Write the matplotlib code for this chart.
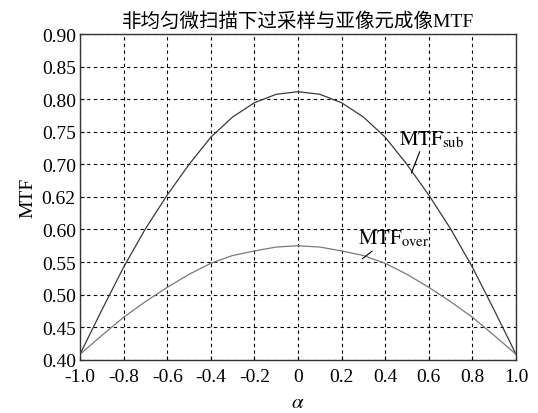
import numpy as np
import matplotlib
matplotlib.use('Agg')
import matplotlib.pyplot as plt

plt.rcParams['font.family'] = ['Liberation Serif', 'Noto Sans CJK SC']
plt.rcParams['mathtext.fontset'] = 'stix'

# ===== data =====
alpha = [-1.0, -0.9, -0.8, -0.7, -0.6, -0.5, -0.4, -0.3, -0.2, -0.1, 0.0,
         0.1, 0.2, 0.3, 0.4, 0.5, 0.6, 0.7, 0.8, 0.9, 1.0]
mtf_sub = [0.408, 0.476, 0.542, 0.601, 0.653, 0.700, 0.742, 0.773, 0.795, 0.808, 0.812,
           0.808, 0.795, 0.773, 0.742, 0.700, 0.653, 0.601, 0.542, 0.476, 0.408]
mtf_over = [0.408, 0.437, 0.465, 0.489, 0.511, 0.531, 0.548, 0.560, 0.567, 0.573, 0.575,
            0.573, 0.567, 0.560, 0.548, 0.531, 0.511, 0.489, 0.465, 0.437, 0.408]

y_ticks = [0.40, 0.45, 0.50, 0.55, 0.60, 0.65, 0.70, 0.75, 0.80, 0.85, 0.90]
y_tick_labels = ['0.40', '0.45', '0.50', '0.55', '0.60', '0.62', '0.70', '0.75', '0.80', '0.85', '0.90']
x_ticks = [-1.0, -0.8, -0.6, -0.4, -0.2, 0.0, 0.2, 0.4, 0.6, 0.8, 1.0]
x_tick_labels = ['-1.0', '-0.8', '-0.6', '-0.4', '-0.2', '0', '0.2', '0.4', '0.6', '0.8', '1.0']

fig = plt.figure(figsize=(5.38, 4.14), dpi=100)
ax = fig.add_axes([0.1487, 0.1292, 0.9591 - 0.1487, 0.9143 - 0.1292])

ax.plot(alpha, mtf_sub, color='#3a3a3a', linewidth=0.9)
ax.plot(alpha, mtf_over, color='#7a7a7a', linewidth=0.9)

ax.set_xlim(-1, 1)
ax.set_ylim(0.40, 0.90)
ax.set_xticks(x_ticks)
ax.set_xticklabels(x_tick_labels)
ax.set_yticks(y_ticks)
ax.set_yticklabels(y_tick_labels)
ax.tick_params(direction='in', length=3, labelsize=14, colors='black')
ax.tick_params(axis='x', pad=6)
ax.tick_params(axis='y', pad=3)
ax.grid(True, color='black', linestyle=(0, (3, 3)), linewidth=0.8)
for sp in ax.spines.values():
    sp.set_linewidth(1.0)
    sp.set_color('#333333')

ax.set_title('非均匀微扫描下过采样与亚像元成像MTF', fontsize=14, pad=6)
ax.set_ylabel('MTF', fontsize=14, labelpad=4)
ax.set_xlabel(r'$\alpha$', fontsize=15, labelpad=6)

# curve labels with leader lines
ax.annotate(r'$\mathrm{MTF}_{\mathrm{sub}}$', xy=(0.52, 0.687), xytext=(0.465, 0.724),
            fontsize=15, ha='left', va='bottom',
            arrowprops=dict(arrowstyle='-', color='black', linewidth=0.8,
                            shrinkA=0, shrinkB=0, relpos=(0.33, 0.0)))
ax.annotate(r'$\mathrm{MTF}_{\mathrm{over}}$', xy=(0.295, 0.555), xytext=(0.275, 0.571),
            fontsize=15, ha='left', va='bottom',
            arrowprops=dict(arrowstyle='-', color='black', linewidth=0.8,
                            shrinkA=0, shrinkB=0, relpos=(0.25, 0.0)))

plt.savefig('out.png', dpi=100)
